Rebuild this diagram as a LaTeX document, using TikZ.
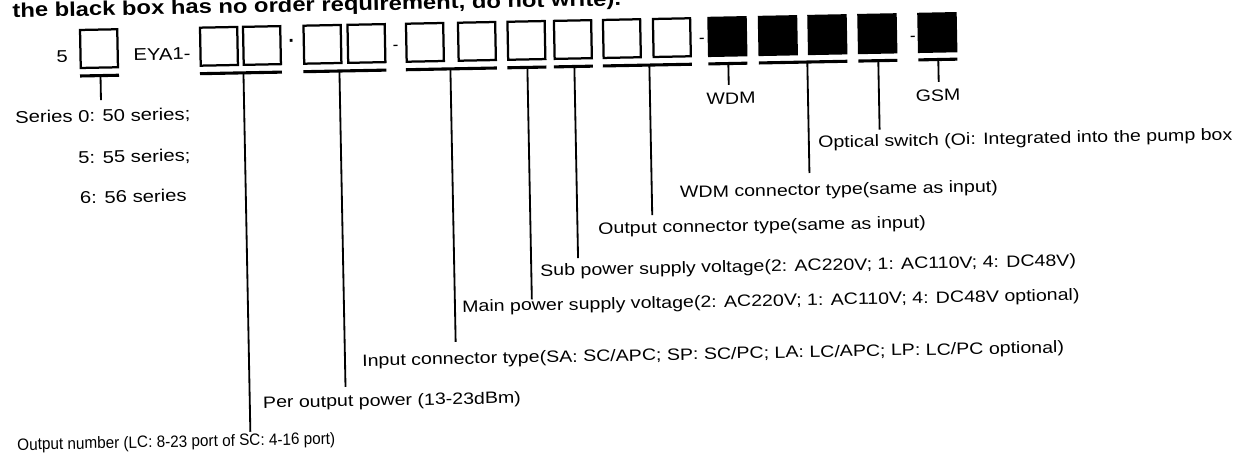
\documentclass[tikz,border=0pt]{standalone}
\usepackage{fontspec}
\setmainfont{Liberation Sans}
\usetikzlibrary{positioning}
\newcommand{\lblfont}{\fontsize{11.7}{14}\selectfont}
\newcommand{\rowfont}{\fontsize{12.1}{14}\selectfont}
\newcommand{\wide}[1]{\scalebox{1.19}[1]{#1}}

\begin{document}
\begin{tikzpicture}[
		x=0.025cm, y=-0.025cm,
		slot/.style={draw, line width=1.6pt, minimum width=0.93cm, minimum height=0.95cm, inner sep=0pt, transform shape},
		blackslot/.style={slot, fill=black},
		bar/.style={line width=2.2pt},
		stem/.style={line width=1.3pt},
		lbl/.style={anchor=base west, inner sep=0pt, font=\lblfont, transform shape},
		tag/.style={anchor=base, inner sep=0pt, font=\lblfont, transform shape}
		]
		
		\useasboundingbox (0,0) rectangle (1237,456);
		
		% the scan is slightly tilted
		\begin{scope}[rotate around={1.1:(600,45)}]
			
			% ==========================================
			% 1. Heading (cut at the top)
			% ==========================================
			\node[lbl, font=\fontsize{14.2}{17}\selectfont\bfseries] (title) at (13,6)
			{\wide{the black box has no order requirement, do not write).}};
			
			% ==========================================
			% 2. The code row
			% ==========================================
			\node[tag, font=\rowfont] (five) at (62,52) {\wide{5}};
			\node[slot] (s1) at (99,39) {};
			\node[lbl, font=\rowfont] (eya) at (133,51.6) {\wide{EYA1-}};
			
			\node[slot] (s2) at (219,39) {};
			\node[slot] (s3) at (262,39) {};
			\node[tag, font=\fontsize{14}{16}\selectfont\bfseries] (dot) at (292,42) {·};
			\node[slot] (s4) at (322.5,39) {};
			\node[slot] (s5) at (366.5,39) {};
			\node[tag, font=\rowfont] (dash1) at (395.5,47) {-};
			
			\node[slot] (s6) at (425,39) {};
			\node[slot] (s7) at (477,39) {};
			\node[slot] (s8) at (526.5,39) {};
			\node[slot] (s9) at (573,39) {};
			\node[slot] (s10) at (622,39) {};
			\node[slot] (s11) at (672,39) {};
			\node[tag, font=\rowfont] (dash2) at (702,45) {-};
			
			% black boxes: no order requirement
			\node[blackslot] (s12) at (727.5,39) {};
			\node[blackslot] (s13) at (778,39) {};
			\node[blackslot] (s14) at (827.5,39) {};
			\node[blackslot] (s15) at (877.5,39) {};
			\node[tag, font=\rowfont] (dash3) at (913,47) {-};
			\node[blackslot] (s16) at (937.5,39) {};
			
			% Bars under the groups
			\draw[bar] (79.5,66) -- (118.5,66);
			\draw[bar] (199.5,66) -- (281.5,66);
			\draw[bar] (303,66) -- (386,66);
			\draw[bar] (405.5,66) -- (496.5,66);
			\draw[bar] (507,66) -- (546,66);
			\draw[bar] (553.5,66) -- (592.5,66);
			\draw[bar] (602.5,66) -- (691.5,66);
			\draw[bar] (708,66) -- (747,66);
			\draw[bar] (758.5,66) -- (847,66);
			\draw[bar] (858,66) -- (897,66);
			\draw[bar] (918,66) -- (957,66);
			
			% ==========================================
			% 3. Stems down to the labels
			% ==========================================
			\coordinate (t1) at (100,66);  \coordinate (e1) at (100,90.5);
			\coordinate (t2) at (243,66);  \coordinate (e2) at (243,425);
			\coordinate (t3) at (339,66);  \coordinate (e3) at (339,382);
			\coordinate (t4) at (450,66);  \coordinate (e4) at (450,339);
			\coordinate (t5) at (527,66);  \coordinate (e5) at (527,298);
			\coordinate (t6) at (574,66);  \coordinate (e6) at (574,257.6);
			\coordinate (t7) at (649,66);  \coordinate (e7) at (649,216);
			\coordinate (t8) at (728,66);  \coordinate (e8) at (728,87.4);
			\coordinate (t9) at (807,66);  \coordinate (e9) at (807,177);
			\coordinate (t10) at (878,66); \coordinate (e10) at (878,135);
			\coordinate (t11) at (938,66); \coordinate (e11) at (938,88.4);
			
			\draw[stem] (t1) -- (e1);
			\draw[stem] (t2) -- (e2);
			\draw[stem] (t3) -- (e3);
			\draw[stem] (t4) -- (e4);
			\draw[stem] (t5) -- (e5);
			\draw[stem] (t6) -- (e6);
			\draw[stem] (t7) -- (e7);
			\draw[stem] (t8) -- (e8);
			\draw[stem] (t9) -- (e9);
			\draw[stem] (t10) -- (e10);
			\draw[stem] (t11) -- (e11);
			
			% ==========================================
			% 4. Labels
			% ==========================================
			\node[lbl, font=\rowfont] (ser0) at (13.6,112) {\wide{Series 0: 50 series;}};
			\node[lbl, font=\rowfont] (ser5) at (76,153.5) {\wide{5: 55 series;}};
			\node[lbl, font=\rowfont] (ser6) at (77,193.5) {\wide{6: 56 series}};
			
			\node[tag] (wdm) at (730,106.5) {\wide{WDM}};
			\node[tag] (gsm) at (937,107.4) {\wide{GSM}};
			
			\node[lbl] (optsw) at (816,152) {\wide{Optical switch (Oi: Integrated into the pump box}};
			\node[lbl] (wdmcon) at (677,199.5) {\wide{WDM connector type(same as input)}};
			\node[lbl] (outcon) at (594.5,234) {\wide{Output connector type(same as input)}};
			\node[lbl] (subpow) at (535.7,274.9) {\wide{Sub power supply voltage(2: AC220V; 1: AC110V; 4: DC48V)}};
			\node[lbl] (mainpow) at (457,309.4) {\wide{Main power supply voltage(2: AC220V; 1: AC110V; 4: DC48V optional)}};
			\node[lbl] (incon) at (356,361.5) {\wide{Input connector type(SA: SC/APC; SP: SC/PC; LA: LC/APC; LP: LC/PC optional)}};
			\node[lbl] (perpow) at (256,401.6) {\wide{Per output power (13-23dBm)}};
			\node[lbl] (outnum) at (9.4,439) {\scalebox{0.93}[1]{Output number (LC: 8-23 port of SC: 4-16 port)}};
		\end{scope}
		
	\end{tikzpicture}
\end{document}
